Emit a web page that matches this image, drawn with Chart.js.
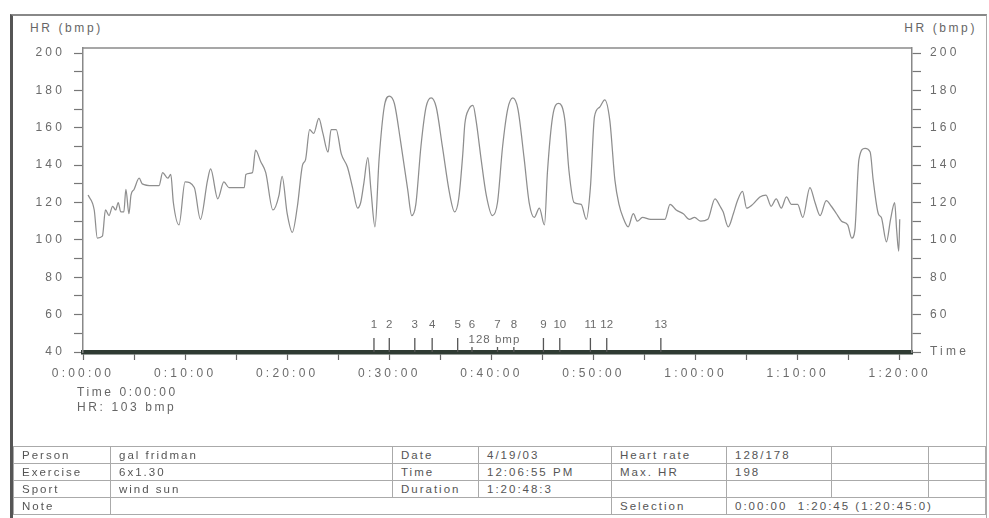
<!DOCTYPE html>
<html lang="en">
<head>
<meta charset="UTF-8">
<title>HR (bmp)</title>
<script src="https://cdn.jsdelivr.net/npm/chart.js"></script>
<style>
  body {
    margin: 0;
    width: 989px;
    height: 518px;
    background: #fff;
    overflow: hidden;
    position: relative;
    font-family: "Liberation Sans", Arial, sans-serif;
    color: #666;
  }
  .frame {
    position: absolute;
    left: 10px; top: 14px;
    width: 973px; height: 520px;
    border-left: 3px solid #555;
    border-top: 2px solid #888;
    border-right: 1px solid #aaa;
  }
  .lbl {
    position: absolute;
    font-size: 12px;
    letter-spacing: 2.6px;
    color: #666;
    white-space: nowrap;
  }
  .chart-box {
    position: absolute;
    left: 0; top: 0;
    width: 989px; height: 400px;
  }
  table {
    position: absolute;
    left: 13px; top: 446px;
    width: 972px;
    border-collapse: collapse;
    table-layout: fixed;
    font-size: 11.5px;
    letter-spacing: 2px;
    color: #555;
  }
  td {
    border: 1px solid #aaa;
    height: 16px;
    padding: 0 0 0 8px;
    white-space: nowrap;
    overflow: hidden;
  }
</style>
</head>
<body>
  <div class="frame"></div>
  <div class="lbl" style="left:30px; top:21px;">HR (bmp)</div>
  <div class="lbl" style="right:12px; top:21px;">HR (bmp)</div>

  <div class="chart-box">
    <canvas id="hrChart"></canvas>
  </div>

  <div class="lbl" style="left:77px; top:385px;">Time 0:00:00</div>
  <div class="lbl" style="left:77px; top:400px;">HR: 103 bmp</div>

  <table>
    <colgroup>
      <col style="width:97px"><col style="width:282px"><col style="width:86px"><col style="width:133px">
      <col style="width:115px"><col style="width:105px"><col style="width:97px"><col style="width:57px">
    </colgroup>
    <tr><td>Person</td><td>gal fridman</td><td>Date</td><td>4/19/03</td><td>Heart rate</td><td>128/178</td><td></td><td></td></tr>
    <tr><td>Exercise</td><td>6x1.30</td><td>Time</td><td>12:06:55 PM</td><td>Max. HR</td><td>198</td><td></td><td></td></tr>
    <tr><td>Sport</td><td>wind sun</td><td>Duration</td><td>1:20:48:3</td><td></td><td></td><td></td><td></td></tr>
    <tr><td>Note</td><td colspan="3"></td><td>Selection</td><td colspan="3">0:00:00&nbsp;&nbsp;1:20:45 (1:20:45:0)</td></tr>
  </table>

<script>
// minutes since start
const minutes = [
  0.5, 1.1, 1.4, 1.9, 2.2, 2.55, 2.9, 3.2, 3.45, 3.7, 4.0, 4.2, 4.5, 4.7, 5.0, 5.5, 5.8, 6.8, 7.45, 7.8,
  8.3, 8.6, 8.85, 9.4, 10.0, 10.9, 11.5, 12.2, 12.5, 13.2, 13.8, 14.3, 15.8, 15.95, 16.6, 16.9, 17.4, 17.9, 18.6, 19.2,
  19.5, 20.0, 20.5, 21.0, 21.5, 21.8, 22.2, 22.6, 23.1, 23.5, 24.0, 24.3, 24.8, 25.3, 25.9, 26.4, 26.9, 27.2, 27.5, 27.9,
  28.2, 28.6, 29.0, 29.5, 30.0, 30.5, 31.1, 31.8, 32.2, 32.6, 33.1, 33.6, 34.1, 34.6, 35.2, 35.9, 36.4, 36.8, 37.2, 37.4,
  37.8, 38.2, 38.5, 39.0, 39.5, 40.1, 40.6, 41.1, 41.6, 42.1, 42.6, 43.2, 43.7, 44.2, 44.7, 45.2, 45.5, 46.0, 46.6, 47.2,
  47.6, 48.1, 48.8, 49.3, 49.7, 50.1, 50.6, 51.1, 51.6, 52.1, 52.5, 52.9, 53.4, 53.9, 54.3, 54.8, 55.6, 56.5, 57.0, 57.5,
  58.1, 58.8, 59.4, 59.9, 60.5, 61.2, 61.9, 62.4, 62.7, 63.2, 63.7, 64.1, 64.6, 65.0, 65.6, 66.3, 66.9, 67.4, 67.9, 68.4,
  68.9, 69.4, 70.0, 70.5, 71.2, 71.7, 72.2, 72.8, 73.3, 73.8, 74.3, 74.9, 75.3, 75.6, 76.0, 76.6, 77.1, 77.4, 77.9, 78.2,
  78.7, 79.1, 79.5, 79.7, 79.9, 80.0
];
// heart rate, bpm
const heartRate = [
  124, 116, 101, 102, 116, 113, 118, 116, 120, 115, 115, 127, 114, 124, 127, 133, 130, 129, 129, 136,
  133, 135, 120, 108, 131, 128, 111, 132, 138, 122, 131, 128, 128, 135, 136, 148, 142, 136, 116, 124,
  134, 114, 104, 118, 140, 143, 159, 157, 165, 157, 147, 159, 159, 146, 139, 128, 117, 120, 130, 144,
  127, 107, 143, 171, 177, 173, 153, 127, 113, 119, 150, 171, 176, 171, 150, 125, 115, 122, 146, 162,
  170, 172, 164, 143, 124, 113, 120, 150, 170, 176, 170, 144, 120, 112, 117, 108, 137, 166, 173, 164,
  137, 120, 119, 111, 128, 166, 171, 175, 164, 132, 119, 112, 107, 114, 110, 112, 111, 111, 111, 119,
  116, 114, 111, 112, 110, 111, 122, 118, 115, 107, 114, 121, 126, 117, 119, 123, 124, 118, 122, 117,
  123, 119, 119, 112, 128, 120, 113, 121, 118, 114, 110, 108, 101, 105, 143, 149, 147, 132, 114, 112,
  99, 111, 120, 105, 94, 111
];

// lap markers along the time axis
const lapTimes = [28.5, 30.0, 32.5, 34.2, 36.7, 38.1, 40.6, 42.2, 45.1, 46.7, 49.7, 51.3, 56.6];
const lapLabels = ['1', '2', '3', '4', '5', '6', '7', '8', '9', '10', '11', '12', '13'];
const lapNote = '128 bmp';
const lapNoteAt = 40.3;

const hrTicks = [40, 60, 80, 100, 120, 140, 160, 180, 200];

function fmtTime(v) {
  const h = Math.floor(v / 60);
  const m = Math.round(v % 60);
  return h + ':' + String(m).padStart(2, '0') + ':00';
}

const TEXT = '#6b6b6b';
const FONT = { family: '"Liberation Sans", Arial, sans-serif', size: 12 };

// wide, scanned-looking lettering + plot frame + lap markers
const scanPlugin = {
  id: 'scan',
  beforeDraw(chart) {
    chart.ctx.letterSpacing = '3.2px';
  },
  afterDraw(chart) {
    const ctx = chart.ctx;
    const a = chart.chartArea;
    const xs = chart.scales.x;
    ctx.save();
    ctx.letterSpacing = '0px';
    // top edge of plot
    ctx.strokeStyle = '#8a8a8a';
    ctx.lineWidth = 1.5;
    ctx.beginPath();
    ctx.moveTo(a.left, a.top);
    ctx.lineTo(a.right, a.top);
    ctx.stroke();

    // lap ticks and numbers
    ctx.strokeStyle = '#555';
    ctx.lineWidth = 1.3;
    ctx.fillStyle = TEXT;
    ctx.font = '11.5px "Liberation Sans", Arial, sans-serif';
    ctx.textAlign = 'center';
    ctx.textBaseline = 'middle';
    lapTimes.forEach((t, i) => {
      const px = xs.getPixelForValue(t);
      ctx.beginPath();
      ctx.moveTo(px, a.bottom - 14);
      ctx.lineTo(px, a.bottom);
      ctx.stroke();
      ctx.fillText(lapLabels[i], px, a.bottom - 27);
    });

    // note box
    const nx = xs.getPixelForValue(lapNoteAt);
    ctx.letterSpacing = '1px';
    const w = ctx.measureText(lapNote).width + 4;
    ctx.fillStyle = '#fff';
    ctx.fillRect(nx - w / 2, a.bottom - 19, w, 14);
    ctx.fillStyle = TEXT;
    ctx.fillText(lapNote, nx, a.bottom - 12);
    ctx.restore();
  }
};

const ctx = document.getElementById('hrChart').getContext('2d');
const hrChart = new Chart(ctx, {
  type: 'line',
  data: {
    datasets: [{
      label: 'HR',
      data: minutes.map((m, i) => ({ x: m, y: heartRate[i] })),
      borderColor: '#8e8e8e',
      borderWidth: 1.25,
      pointRadius: 0,
      cubicInterpolationMode: 'monotone',
      fill: false
    }]
  },
  options: {
    responsive: true,
    maintainAspectRatio: false,
    animation: false,
    layout: { padding: { top: 48, right: 0, bottom: 0, left: 0 } },
    plugins: {
      legend: { display: false },
      tooltip: { enabled: false }
    },
    scales: {
      x: {
        type: 'linear',
        min: 0,
        max: 81.2,
        afterFit(scale) { scale.height = 48; },
        border: { display: true, color: '#2f3b33', width: 4.5 },
        grid: { drawOnChartArea: false, drawTicks: true, tickLength: 8, tickColor: '#666', tickWidth: 1.2 },
        ticks: {
          stepSize: 5,
          includeBounds: false,
          autoSkip: false,
          maxRotation: 0,
          padding: 6,
          color: TEXT,
          font: FONT,
          callback: v => (v % 10 === 0 ? fmtTime(v) : '')
        }
      },
      y: {
        position: 'left',
        min: 40,
        max: 202.7,
        afterFit(scale) { scale.width = 83; },
        border: { display: true, color: '#888', width: 1.5 },
        grid: { drawOnChartArea: false, drawTicks: true, tickLength: 9, tickColor: '#777', tickWidth: 1.2 },
        ticks: {
          stepSize: 10,
          includeBounds: false,
          autoSkip: false,
          padding: 9,
          color: TEXT,
          font: FONT,
          callback: v => (hrTicks.includes(v) ? String(v) : '')
        }
      },
      y2: {
        position: 'right',
        min: 40,
        max: 202.7,
        afterFit(scale) { scale.width = 77; },
        border: { display: true, color: '#888', width: 1.5 },
        grid: { drawOnChartArea: false, drawTicks: true, tickLength: 9, tickColor: '#777', tickWidth: 1.2 },
        ticks: {
          stepSize: 10,
          includeBounds: false,
          autoSkip: false,
          padding: 9,
          color: TEXT,
          font: FONT,
          callback: v => (v === 40 ? 'Time' : (hrTicks.includes(v) ? String(v) : ''))
        }
      }
    }
  },
  plugins: [scanPlugin]
});
</script>
</body>
</html>
